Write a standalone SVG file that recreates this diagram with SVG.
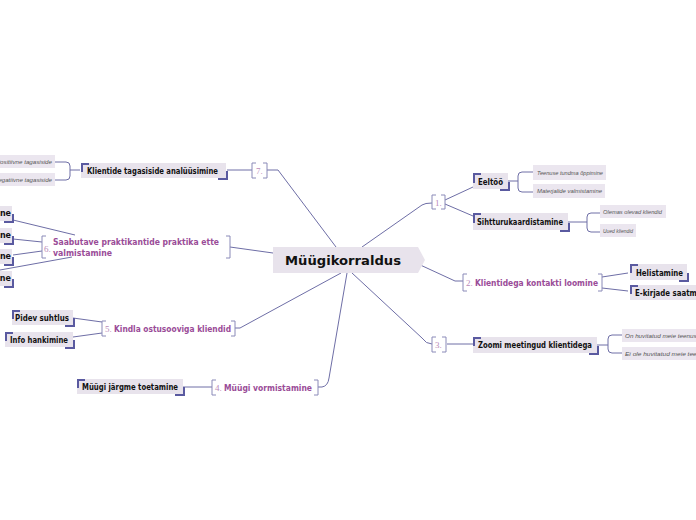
<svg xmlns="http://www.w3.org/2000/svg" width="696" height="520" viewBox="0 0 696 520">
<style>
.bg{fill:#ffffff}
.conn{fill:none;stroke:#6e6ea6;stroke-width:1}
.brk{fill:none;stroke:#8a8ab8;stroke-width:1}
.box{fill:#e8e3ec}
.mark{fill:none;stroke:#5a5aa0;stroke-width:2}
.sbox{fill:#ebe6ef}
.bt{font-family:"DejaVu Sans","Liberation Sans",sans-serif;font-weight:bold;font-size:8px;fill:#111}
.pt{font-family:"DejaVu Sans","Liberation Sans",sans-serif;font-weight:bold;font-size:8px;fill:#9a4c98}
.num{font-family:"Liberation Serif",serif;font-size:9px;fill:#b98ab8}
.it{font-family:"Liberation Sans",sans-serif;font-style:italic;font-size:5.5px;fill:#555}
.ct{font-family:"DejaVu Sans",sans-serif;font-weight:bold;font-size:12px;fill:#111}
</style>
<rect class="bg" x="0" y="0" width="696" height="520"/>
<g id="connectors">
<path class="conn" d="M267,170 H278 L336,247"/>
<path class="conn" d="M362,247 L422,205 Q425,203 432,203"/>
<path class="conn" d="M230,247 L273,253"/>
<path class="conn" d="M235,328 H240 L341,273"/>
<path class="conn" d="M318,387 H322 Q328,386 329,378 L347,273"/>
<path class="conn" d="M352,273 L422,338 Q426,344 432,344"/>
<path class="conn" d="M416,263 L455,281 H463"/>
<path class="conn" d="M445,200 L473,187"/>
<path class="conn" d="M445,204 L473,216"/>
<path class="conn" d="M508,181 H518 M533,172 H522 Q518,172 518,176 V188 Q518,192 522,192 H533"/>
<path class="conn" d="M568,222 H587 M600,213 H591 Q587,213 587,217 V228 Q587,232 591,232 H600"/>
<path class="conn" d="M602,277 L628,273 M602,288 L628,291"/>
<path class="conn" d="M447,344 H473"/>
<path class="conn" d="M597,345 H608 M622,335 H612 Q608,335 608,339 V349 Q608,353 612,353 H622"/>
<path class="conn" d="M252,170 H227"/>
<path class="conn" d="M80,170 H70 M55,162 H66 Q70,162 70,166 V176 Q70,180 66,180 H55"/>
<path class="conn" d="M13,220 L75,235 M13,239 L42,242 M13,255 L42,251 M0,270 L72,257"/>
<path class="conn" d="M73,318 L102,322 M73,337 L102,333"/>
<path class="conn" d="M183,387 H212"/>
</g>
<g id="center">
<polygon points="273,247 418,247 425,260 418,273 273,273" fill="#e8e3ec"/>
<text class="ct" x="285" y="265" textLength="116" lengthAdjust="spacingAndGlyphs">Müügikorraldus</text>
</g>
<g id="n1">
<path class="brk" d="M436,195 H432 V209 H436 M441,195 H445 V209 H441"/>
<text class="num" x="435" y="206">1.</text>
</g>
<g id="eeltoo">
<rect class="box" x="473" y="173" width="35" height="16"/>
<path class="mark" d="M474,183 V174 H481 M500,190 H509 V182"/>
<text class="bt" x="478" y="185" textLength="25" lengthAdjust="spacingAndGlyphs">Eeltöö</text>
</g>
<g id="teenuse">
<rect class="sbox" x="533" y="165" width="73" height="15"/>
<text class="it" x="537" y="175" textLength="66" lengthAdjust="spacingAndGlyphs">Teenuse tundma õppimine</text>
</g>
<g id="materjalide">
<rect class="sbox" x="533" y="184" width="72" height="14"/>
<text class="it" x="537" y="193" textLength="65" lengthAdjust="spacingAndGlyphs">Materjalide valmistamine</text>
</g>
<g id="sihtturu">
<rect class="box" x="473" y="213" width="95" height="17"/>
<path class="mark" d="M474,223 V214 H481 M560,231 H569 V223"/>
<text class="bt" x="477" y="225" textLength="86" lengthAdjust="spacingAndGlyphs">Sihtturukaardistamine</text>
</g>
<g id="olemas">
<rect class="sbox" x="600" y="205" width="66" height="13"/>
<text class="it" x="603" y="214" textLength="59" lengthAdjust="spacingAndGlyphs">Olemas olevad kliendid</text>
</g>
<g id="uued">
<rect class="sbox" x="600" y="224" width="36" height="13"/>
<text class="it" x="603" y="233" textLength="30" lengthAdjust="spacingAndGlyphs">Uued kliendid</text>
</g>
<g id="n2">
<path class="brk" d="M467,274 H463 V291 H467 M598,274 H602 V291 H598"/>
<text class="num" x="466" y="286">2.</text>
<text class="pt" x="475" y="286" textLength="123" lengthAdjust="spacingAndGlyphs">Klientidega kontakti loomine</text>
</g>
<g id="helistamine">
<rect class="box" x="630" y="264" width="57" height="16"/>
<path class="mark" d="M631,273 V265 H638 M679,281 H688 V273"/>
<text class="bt" x="636" y="276" textLength="47" lengthAdjust="spacingAndGlyphs">Helistamine</text>
</g>
<g id="ekirjade">
<rect class="box" x="630" y="285" width="70" height="15"/>
<path class="mark" d="M631,294 V286 H638"/>
<text class="bt" x="635" y="296" textLength="74" lengthAdjust="spacingAndGlyphs">E-kirjade saatmine</text>
</g>
<g id="n3">
<path class="brk" d="M436,337 H432 V352 H436 M442,337 H446 V352 H442"/>
<text class="num" x="435" y="348">3.</text>
</g>
<g id="zoomi">
<rect class="box" x="473" y="337" width="124" height="16"/>
<path class="mark" d="M474,346 V338 H481 M589,354 H598 V346"/>
<text class="bt" x="478" y="348" textLength="114" lengthAdjust="spacingAndGlyphs">Zoomi meetingud klientidega</text>
</g>
<g id="huvitatud">
<rect class="sbox" x="622" y="329" width="80" height="13"/>
<text class="it" x="625" y="338" textLength="80" lengthAdjust="spacingAndGlyphs">On huvitatud meie teenusest</text>
</g>
<g id="eihuvitatud">
<rect class="sbox" x="622" y="347" width="80" height="13"/>
<text class="it" x="625" y="356" textLength="91" lengthAdjust="spacingAndGlyphs">Ei ole huvitatud meie teenusest</text>
</g>
<g id="n7">
<path class="brk" d="M256,163 H252 V178 H256 M263,163 H267 V178 H263"/>
<text class="num" x="256" y="174">7.</text>
</g>
<g id="tagasiside">
<rect class="box" x="81" y="163" width="145" height="15"/>
<path class="mark" d="M82,172 V164 H89 M218,179 H227 V171"/>
<text class="bt" x="87" y="174" textLength="131" lengthAdjust="spacingAndGlyphs">Klientide tagasiside analüüsimine</text>
</g>
<g id="positiivne">
<rect class="sbox" x="-12" y="155" width="67" height="13"/>
<text class="it" x="52" y="164" text-anchor="end" textLength="56" lengthAdjust="spacingAndGlyphs">Positiivne tagasiside</text>
</g>
<g id="negatiivne">
<rect class="sbox" x="-12" y="173" width="67" height="13"/>
<text class="it" x="52" y="182" text-anchor="end" textLength="58" lengthAdjust="spacingAndGlyphs">Negatiivne tagasiside</text>
</g>
<g id="n6">
<path class="brk" d="M46,236 H42 V258 H46 M226,236 H230 V258 H226"/>
<text class="num" x="44" y="252">6.</text>
<text class="pt" x="53" y="245" textLength="166" lengthAdjust="spacingAndGlyphs">Saabutave praktikantide praktika ette</text>
<text class="pt" x="53" y="256" textLength="59" lengthAdjust="spacingAndGlyphs">valmistamine</text>
</g>
<g id="c6a">
<rect class="box" x="-60" y="206" width="72" height="15"/>
<path class="mark" d="M4,222 H13 V214"/>
<text class="bt" x="11" y="216" text-anchor="end">Koostamine</text>
</g>
<g id="c6b">
<rect class="box" x="-60" y="228" width="72" height="15"/>
<path class="mark" d="M4,244 H13 V236"/>
<text class="bt" x="11" y="238" text-anchor="end">Planeerimine</text>
</g>
<g id="c6c">
<rect class="box" x="-60" y="249" width="72" height="15"/>
<path class="mark" d="M4,265 H13 V257"/>
<text class="bt" x="11" y="259" text-anchor="end">Juhendamine</text>
</g>
<g id="c6d">
<rect class="box" x="-60" y="271" width="72" height="15"/>
<path class="mark" d="M4,287 H13 V279"/>
<text class="bt" x="11" y="281" text-anchor="end">Tutvustamine</text>
</g>
<g id="n5">
<path class="brk" d="M106,321 H102 V336 H106 M231,321 H235 V336 H231"/>
<text class="num" x="105" y="332">5.</text>
<text class="pt" x="114" y="332" textLength="117" lengthAdjust="spacingAndGlyphs">Kindla ostusooviga kliendid</text>
</g>
<g id="pidev">
<rect class="box" x="12" y="310" width="61" height="15"/>
<path class="mark" d="M13,319 V311 H20 M65,326 H74 V318"/>
<text class="bt" x="15" y="321" textLength="54" lengthAdjust="spacingAndGlyphs">Pidev suhtlus</text>
</g>
<g id="info">
<rect class="box" x="5" y="332" width="68" height="15"/>
<path class="mark" d="M6,341 V333 H13 M65,348 H74 V340"/>
<text class="bt" x="10" y="343" textLength="58" lengthAdjust="spacingAndGlyphs">Info hankimine</text>
</g>
<g id="n4">
<path class="brk" d="M216,380 H212 V395 H216 M314,380 H318 V395 H314"/>
<text class="num" x="215" y="391">4.</text>
<text class="pt" x="224" y="391" textLength="88" lengthAdjust="spacingAndGlyphs">Müügi vormistamine</text>
</g>
<g id="jargne">
<rect class="box" x="77" y="379" width="106" height="15"/>
<path class="mark" d="M78,388 V380 H85 M175,395 H184 V387"/>
<text class="bt" x="82" y="390" textLength="96" lengthAdjust="spacingAndGlyphs">Müügi järgme toetamine</text>
</g>
</svg>
